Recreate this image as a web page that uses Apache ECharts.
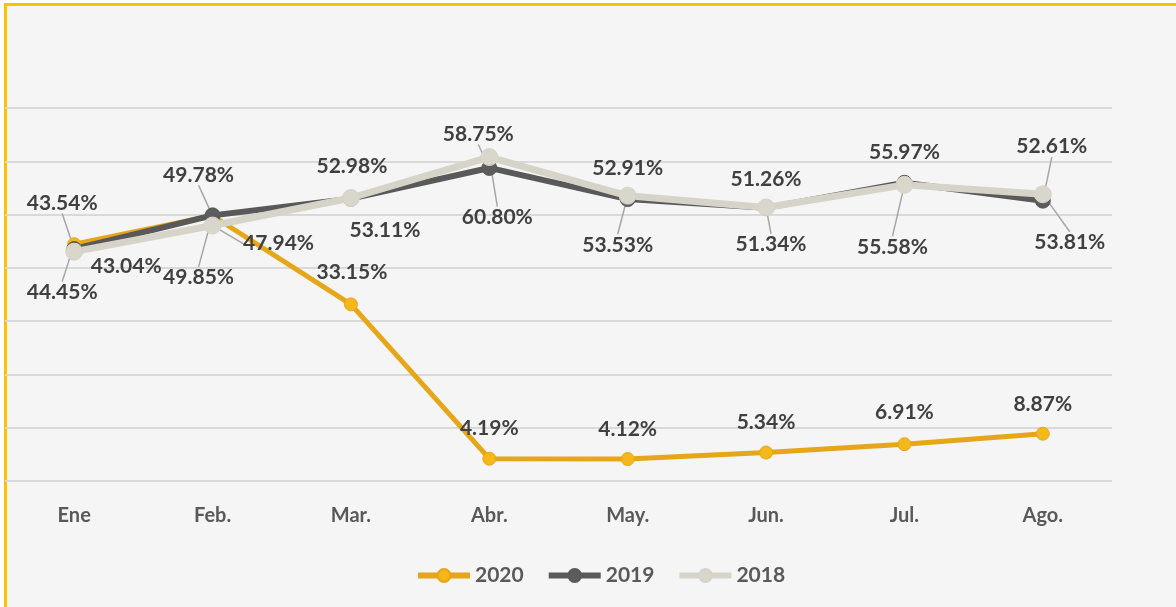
<!DOCTYPE html>
<html>
<head>
<meta charset="utf-8">
<script src="https://cdn.jsdelivr.net/npm/echarts@6/dist/echarts.min.js"></script>
<style>
  html, body { margin: 0; padding: 0; background: #ffffff; }
  #frame { position: absolute; left: 4px; top: 3px; width: 1200px; height: 640px;
           border-top: 3px solid #FFC000; border-left: 3px solid #FFC000; background: #f5f5f5; }
  #chart { position: absolute; left: 0; top: 0; width: 1176px; height: 607px; }
</style>
</head>
<body>
<div id="frame"></div>
<div id="chart"></div>
<script>
var months = ['Ene', 'Feb.', 'Mar.', 'Abr.', 'May.', 'Jun.', 'Jul.', 'Ago.'];
var years = ['2020', '2019', '2018'];
var data2020 = [44.45, 49.78, 33.15, 4.19, 4.12, 5.34, 6.91, 8.87];
var data2019 = [43.54, 49.85, 52.98, 58.75, 52.91, 51.26, 55.97, 52.61];
var data2018 = [43.04, 47.94, 53.11, 60.80, 53.53, 51.34, 55.58, 53.81];

// where each label sits, relative to its point (Excel had them dragged around)
var labelOffsets = [
  [[-12, 48], [-14, -41], [1, -32], [0, -30], [0, -30], [0, -30], [0, -32], [0, -30]],
  [[-12, -46], [-14, 62], [1, -32], [-11, -34], [0, -31], [0, -29], [0, -31], [9, -54]],
  [[52, 15], [66, 18], [34, 32], [8, 60], [-10, 49], [5, 37], [-12, 62], [27, 48]]
];
var leaderShown = [
  [true, true, false, false, false, false, false, false],
  [true, true, false, true, false, false, false, true],
  [false, true, false, true, true, true, true, true]
];

var lineColors = ['#E6A619', '#595959', '#D6D3C9'];
var dotColors = ['#F5B81A', '#5c5c5c', '#D9D6CC'];
var lineWidths = [5, 6, 7];
var dotSizes = [13, 15, 17];

function buildData(vals, s) {
  return vals.map(function (v, i) {
    return { value: v, labelLine: { show: leaderShown[s][i] } };
  });
}

var allData = [data2020, data2019, data2018];
var series = allData.map(function (vals, s) {
  return {
    name: years[s],
    type: 'line',
    data: buildData(vals, s),
    symbol: 'circle',
    symbolSize: dotSizes[s],
    lineStyle: { color: lineColors[s], width: lineWidths[s] },
    itemStyle: { color: dotColors[s], borderColor: lineColors[s], borderWidth: 1 },
    label: {
      show: true,
      position: 'top',
      formatter: function (p) { return p.value.toFixed(2) + '%'; },
      fontFamily: 'Lato',
      fontWeight: 'bold',
      fontSize: 21,
      color: '#404040'
    },
    labelLine: { lineStyle: { color: '#a6a6a6', width: 1.5 } },
    labelLayout: function (p) {
      var off = labelOffsets[p.seriesIndex][p.dataIndex];
      return {
        x: p.rect.x + p.rect.width / 2 + off[0],
        y: p.rect.y + p.rect.height / 2 + off[1],
        align: 'center',
        verticalAlign: 'middle'
      };
    },
    emphasis: { disabled: true },
    animation: false
  };
});

var chart = echarts.init(document.getElementById('chart'));
chart.setOption({
  backgroundColor: 'transparent',
  grid: { left: 5, right: 64, top: 108, bottom: 126 },
  legend: {
    bottom: 16,
    left: 410,
    itemWidth: 52,
    itemHeight: 16,
    itemGap: 22,
    lineStyle: { width: 6 },
    textStyle: { fontFamily: 'Lato', fontWeight: 'bold', fontSize: 21, color: '#595959' },
    data: years
  },
  xAxis: {
    type: 'category',
    data: months,
    boundaryGap: true,
    axisLine: { show: false },
    axisTick: { show: false },
    axisLabel: { margin: 25, fontFamily: 'Lato', fontWeight: 'bold', fontSize: 20, color: '#595959' }
  },
  yAxis: {
    type: 'value',
    min: 0,
    max: 70,
    interval: 10,
    axisLabel: { show: false },
    axisLine: { show: false },
    axisTick: { show: false },
    splitLine: { lineStyle: { color: '#d9d9d9', width: 2 } }
  },
  series: series
});
</script>
</body>
</html>
